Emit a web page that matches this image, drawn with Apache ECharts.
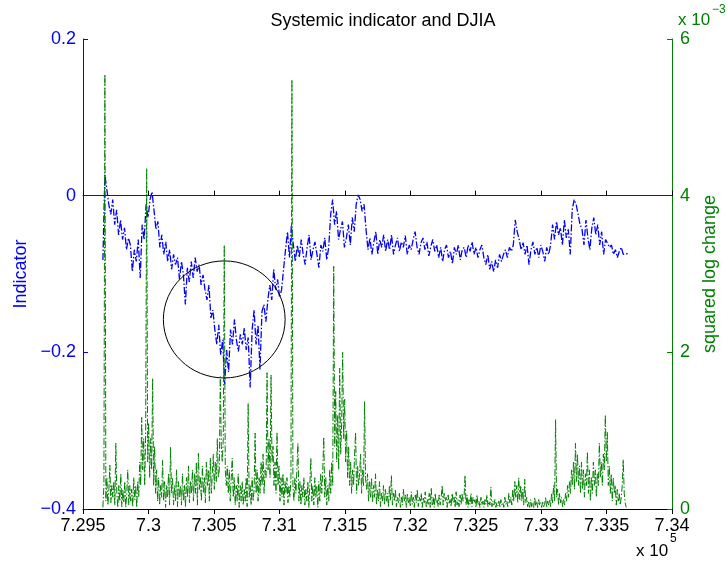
<!DOCTYPE html>
<html>
<head>
<meta charset="utf-8">
<script src="https://cdn.jsdelivr.net/npm/echarts@6/dist/echarts.min.js"></script>
<style>
html, body { margin: 0; padding: 0; background: #fff; }
#chart { width: 727px; height: 567px; }
</style>
</head>
<body>
<div id="chart"></div>
<script>
// sample grids: MATLAB datenum of first sample and spacing in days
const startDay = 729652;
const indicatorStep = 15;
const changeStep = 7.6;

// systemic indicator (left axis)
const indicator = [
    -0.082, 0.027, 0.008, -0.011,
    -0.024, -0.005, -0.037, -0.018, -0.050, -0.031, -0.056, -0.041, -0.069, -0.054,
    -0.063, -0.097, -0.069, -0.084, -0.056, -0.105,
    -0.037, -0.056, -0.011, -0.028, -0.005, 0.005, -0.018,
    -0.043, -0.033, -0.066, -0.050, -0.075, -0.059, -0.084, -0.069, -0.094, -0.075,
    -0.088, -0.079, -0.107, -0.084, -0.101, -0.139, -0.092, -0.110, -0.084, -0.105, -0.079, -0.097, -0.088, -0.114, -0.101,
    -0.120, -0.133, -0.114, -0.156, -0.146, -0.171, -0.190, -0.165, -0.203,
    -0.184, -0.241, -0.197, -0.225,
    -0.171, -0.190, -0.158, -0.184, -0.199, -0.177, -0.190, -0.169, -0.197, -0.181, -0.245,
    -0.171, -0.146, -0.190, -0.165, -0.222, -0.148, -0.139, -0.161, -0.133,
    -0.114, -0.133, -0.094, -0.120, -0.107, -0.130, -0.120,
    -0.094, -0.069, -0.046, -0.079, -0.037, -0.063, -0.084,
    -0.063, -0.079, -0.056, -0.075, -0.088, -0.066, -0.050, -0.082, -0.069, -0.059, -0.075, -0.092, -0.063, -0.071, -0.054, -0.082, -0.066,
    -0.024, -0.005, -0.037, -0.020, -0.056,
    -0.043, -0.033, -0.066, -0.054, -0.037, -0.063, -0.028, -0.046,
    -0.011, 0.001, -0.005, -0.020, -0.011,
    -0.043, -0.069, -0.054, -0.075, -0.059, -0.046, -0.075, -0.056, -0.066, -0.050, -0.071,
    -0.056, -0.069, -0.050, -0.075, -0.063, -0.054, -0.071, -0.059, -0.066, -0.051, -0.075, -0.063,
    -0.069, -0.056, -0.046, -0.066, -0.075, -0.060, -0.054, -0.069, -0.059, -0.077, -0.065, -0.056,
    -0.071, -0.063, -0.079, -0.066, -0.084, -0.069, -0.063, -0.079, -0.071, -0.087, -0.066, -0.075, -0.063, -0.082, -0.069, -0.066, -0.079,
    -0.063, -0.071, -0.059, -0.075, -0.066, -0.079, -0.069, -0.063,
    -0.079, -0.088, -0.075, -0.094, -0.084, -0.097, -0.082, -0.092, -0.075, -0.084,
    -0.075, -0.069, -0.079, -0.066, -0.071, -0.063,
    -0.031, -0.046, -0.056,
    -0.069, -0.060, -0.075, -0.063, -0.088, -0.069, -0.059, -0.075, -0.066, -0.079, -0.063, -0.071, -0.084, -0.066, -0.075, -0.063,
    -0.037, -0.056, -0.033, -0.050, -0.041, -0.063, -0.031, -0.054, -0.043, -0.075,
    -0.018, -0.005, -0.011, -0.024, -0.037,
    -0.043, -0.063, -0.031, -0.054, -0.069, -0.041,
    -0.028, -0.050, -0.037, -0.063, -0.046, -0.075, -0.056, -0.054, -0.066,
    -0.063, -0.075, -0.069, -0.079, -0.071, -0.066, -0.075, -0.077, -0.074, -0.075
];

// squared log change of DJIA, in units of 1e-3 (right axis)
const sqLogChange = [
    0.02, 0.3, 5.55, 0.1, 0.4, 0.05, 0.25, 0.56, 0.08, 0.3,
    0.15, 0.35, 0.05, 0.84, 0.2, 0.02, 0.3, 0.1, 0.45, 0.03,
    0.25, 0.08, 0.35, 0.02, 0.2, 0.5, 0.05, 0.3, 0.1, 0.25,
    0.03, 0.4, 0.12, 0.3, 0.02, 0.35, 0.15, 0.6, 0.3, 1.17,
    0.5, 0.9, 0.3, 1.0, 4.35, 0.6, 1.1, 0.4, 0.9, 0.5,
    1.67, 0.3, 0.8, 0.2, 0.5, 0.1, 0.4, 0.05, 0.3, 0.15,
    0.62, 0.1, 0.35, 0.02, 0.3, 0.15, 0.45, 0.05, 0.79, 0.2,
    0.4, 0.05, 0.3, 0.1, 0.5, 0.03, 0.35, 0.15, 0.3, 0.05,
    0.45, 0.1, 0.3, 0.02, 0.4, 0.15, 0.55, 0.08, 0.35, 0.2,
    0.5, 0.1, 0.45, 0.2, 0.6, 0.05, 0.71, 0.25, 0.4, 0.1,
    0.55, 0.2, 0.4, 0.08, 0.6, 0.3, 0.5, 0.1, 0.65, 0.2,
    0.45, 0.7, 0.25, 0.6, 0.35, 0.9, 0.4, 0.5, 1.69, 0.8,
    0.6, 0.9, 3.37, 0.5, 0.3, 0.55, 0.2, 0.5, 0.1, 0.4,
    0.65, 0.15, 0.4, 0.05, 0.3, 0.1, 0.45, 0.02, 0.3, 0.1,
    0.35, 0.05, 0.25, 0.1, 0.4, 0.03, 1.35, 0.15, 0.3, 0.05,
    0.4, 0.1, 0.25, 0.97, 0.2, 0.5, 0.1, 0.4, 0.2, 0.6,
    0.3, 0.7, 0.2, 0.5, 0.4, 1.74, 0.5, 0.9, 0.4, 1.71,
    0.6, 0.8, 0.3, 0.6, 0.2, 0.98, 0.3, 0.55, 0.1, 0.4,
    0.15, 0.45, 0.05, 0.35, 0.2, 0.4, 0.08, 0.3, 0.15, 0.4,
    5.48, 0.3, 0.1, 0.4, 0.2, 0.5, 0.84, 0.1, 0.35, 0.05,
    0.3, 0.15, 0.4, 0.05, 0.25, 0.1, 0.35, 0.02, 0.3, 0.65,
    0.1, 0.3, 0.05, 0.4, 0.15, 0.3, 0.02, 0.35, 0.1, 0.45,
    0.2, 0.5, 0.92, 0.15, 0.4, 0.05, 0.3, 0.1, 0.5, 0.2,
    0.6, 0.3, 3.1, 0.8, 1.5, 0.6, 1.2, 0.5, 1.8, 0.7,
    1.1, 2.0, 0.9, 1.4, 0.6, 1.0, 0.4, 0.8, 0.3, 0.6,
    0.2, 0.5, 0.3, 0.7, 0.98, 0.2, 0.55, 0.3, 0.45, 0.7,
    0.2, 0.5, 0.3, 1.37, 0.4, 0.25, 0.45, 0.1, 0.35, 0.15,
    0.4, 0.08, 0.3, 0.15, 0.45, 0.05, 0.25, 0.1, 0.35, 0.03,
    0.2, 0.1, 0.3, 0.05, 0.25, 0.1, 0.2, 0.02, 0.3, 0.1,
    0.43, 0.05, 0.2, 0.1, 0.25, 0.03, 0.15, 0.08, 0.2, 0.02,
    0.15, 0.05, 0.25, 0.1, 0.18, 0.02, 0.2, 0.08, 0.15, 0.03,
    0.22, 0.06, 0.15, 0.02, 0.18, 0.08, 0.25, 0.03, 0.15, 0.1,
    0.2, 0.02, 0.15, 0.08, 0.22, 0.03, 0.12, 0.06, 0.2, 0.02,
    0.27, 0.05, 0.15, 0.02, 0.2, 0.08, 0.12, 0.03, 0.18, 0.05,
    0.15, 0.3, 0.05, 0.2, 0.1, 0.15, 0.02, 0.18, 0.06, 0.12,
    0.03, 0.2, 0.08, 0.15, 0.02, 0.22, 0.05, 0.12, 0.03, 0.18,
    0.06, 0.2, 0.1, 0.15, 0.43, 0.05, 0.18, 0.02, 0.12, 0.06,
    0.2, 0.03, 0.15, 0.08, 0.12, 0.02, 0.18, 0.05, 0.1, 0.02,
    0.15, 0.05, 0.1, 0.02, 0.12, 0.06, 0.18, 0.03, 0.1, 0.05,
    0.28, 0.03, 0.1, 0.05, 0.12, 0.02, 0.08, 0.04, 0.1, 0.02,
    0.12, 0.05, 0.08, 0.02, 0.15, 0.06, 0.1, 0.03, 0.2, 0.08,
    0.15, 0.05, 0.25, 0.1, 0.35, 0.15, 0.3, 0.08, 0.4, 0.12,
    0.3, 0.1, 0.25, 0.05, 0.38, 0.08, 0.15, 0.03, 0.1, 0.02,
    0.12, 0.03, 0.08, 0.02, 0.15, 0.04, 0.1, 0.02, 0.12, 0.05,
    0.08, 0.02, 0.1, 0.03, 0.06, 0.15, 0.02, 0.1, 0.05, 0.12,
    0.03, 0.2, 0.08, 0.3, 0.1, 1.14, 0.15, 0.25, 0.05, 0.2,
    0.08, 0.15, 0.03, 0.12, 0.05, 0.2, 0.1, 0.3, 0.15, 0.35,
    0.2, 0.5, 0.3, 0.6, 0.25, 0.84, 0.35, 0.7, 0.3, 0.55,
    0.2, 0.6, 0.25, 0.5, 0.15, 0.45, 0.3, 0.73, 0.2, 0.5,
    0.1, 0.4, 0.2, 0.6, 0.3, 0.5, 0.15, 0.45, 0.3, 0.84,
    0.4, 0.6, 0.3, 0.7, 0.5, 1.2, 0.6, 0.98, 0.3, 0.55,
    0.2, 0.45, 0.1, 0.4, 0.2, 0.3, 0.05, 0.25, 0.1, 0.2,
    0.05, 0.15, 0.3, 0.63, 0.2, 0.08, 0.02
];

// annotation ellipse: centre date, centre value, half width (days), half height
const circleMark = [730579, -0.158, 465, 0.0747];

const indicatorDates = indicator.map((_, i) => startDay + i * indicatorStep);
const changeDates = sqLogChange.map((_, i) => startDay + i * changeStep);

const BLUE = '#0000ff';
const GREEN = '#008000';
const FONT = 'Liberation Sans, Arial, sans-serif';
const dashDot = [7, 2, 1.5, 2];

const chart = echarts.init(document.getElementById('chart'), null, { renderer: 'canvas' });

const option = {
    animation: false,
    backgroundColor: '#fff',
    textStyle: { fontFamily: FONT },
    title: {
        text: 'Systemic indicator and DJIA',
        left: 378,
        textAlign: 'center',
        top: 7,
        textStyle: { fontSize: 18, fontWeight: 'normal', color: '#000', fontFamily: FONT }
    },
    grid: { left: 83, right: 54, top: 39, bottom: 58 },
    xAxis: [{
        type: 'value',
        min: 729500,
        max: 734000,
        interval: 500,
        position: 'bottom',
        axisLine: { lineStyle: { color: '#000', width: 1 } },
        axisTick: { inside: true, length: 5, lineStyle: { color: '#000' } },
        axisLabel: {
            color: '#000', fontSize: 18, margin: 8, fontFamily: FONT,
            formatter: v => String(+(v / 1e5).toFixed(3))
        },
        splitLine: { show: false }
    }, {
        type: 'value',
        min: 729500,
        max: 734000,
        interval: 500,
        position: 'top',
        axisLine: { lineStyle: { color: '#000', width: 1 } },
        axisTick: { inside: true, length: 5, lineStyle: { color: '#000' } },
        axisLabel: { show: false },
        splitLine: { show: false }
    }],
    yAxis: [{
        type: 'value',
        min: -0.4,
        max: 0.2,
        interval: 0.2,
        position: 'left',
        name: 'Indicator',
        nameLocation: 'middle',
        nameRotate: 90,
        nameGap: 36,
        nameTextStyle: { color: BLUE, fontSize: 18, fontFamily: FONT },
        axisLine: { show: true, lineStyle: { color: BLUE, width: 1 } },
        axisTick: { show: true, inside: true, length: 5, lineStyle: { color: BLUE } },
        axisLabel: {
            color: BLUE, fontSize: 18, margin: 7, fontFamily: FONT,
            formatter: v => String(+v.toFixed(2)).replace('-', '\u2212')
        },
        splitLine: { show: false }
    }, {
        type: 'value',
        min: 0,
        max: 6,
        interval: 2,
        position: 'right',
        name: 'squared log change',
        nameLocation: 'middle',
        nameRotate: 90,
        nameGap: 26,
        nameTextStyle: { color: GREEN, fontSize: 18, fontFamily: FONT },
        axisLine: { show: true, lineStyle: { color: GREEN, width: 1 } },
        axisTick: { show: true, inside: true, length: 5, lineStyle: { color: GREEN } },
        axisLabel: { color: GREEN, fontSize: 18, margin: 8, fontFamily: FONT },
        splitLine: { show: false }
    }],
    graphic: [
        { type: 'text', left: 678, top: 12, style: { text: 'x 10', fontSize: 17, fill: GREEN, fontFamily: FONT } },
        { type: 'text', left: 712, top: 4, style: { text: '\u22123', fontSize: 12, fill: GREEN, fontFamily: FONT } },
        { type: 'text', left: 636, top: 543, style: { text: 'x 10', fontSize: 17, fill: '#000', fontFamily: FONT } },
        { type: 'text', left: 670, top: 533, style: { text: '5', fontSize: 12, fill: '#000', fontFamily: FONT } }
    ],
    series: [{
        name: 'Indicator',
        type: 'line',
        xAxisIndex: 0,
        yAxisIndex: 0,
        data: indicatorDates.map((d, i) => [d, indicator[i]]),
        showSymbol: false,
        silent: true,
        lineStyle: { color: BLUE, width: 1.3, type: dashDot },
        markLine: {
            silent: true,
            symbol: 'none',
            label: { show: false },
            lineStyle: { color: '#222', width: 1, type: 'solid' },
            data: [{ yAxis: 0 }]
        },
        z: 2
    }, {
        name: 'circle',
        type: 'custom',
        xAxisIndex: 0,
        yAxisIndex: 0,
        data: [circleMark],
        silent: true,
        renderItem: (params, api) => {
            const c = api.coord([api.value(0), api.value(1)]);
            const s = api.size([api.value(2), api.value(3)]);
            return {
                type: 'ellipse',
                shape: { cx: c[0], cy: c[1], rx: s[0], ry: s[1] },
                style: { fill: 'none', stroke: '#000', lineWidth: 1 }
            };
        },
        z: 3
    }, {
        name: 'squared log change',
        type: 'line',
        xAxisIndex: 0,
        yAxisIndex: 1,
        data: changeDates.map((d, i) => [d, sqLogChange[i]]),
        showSymbol: false,
        silent: true,
        lineStyle: { color: GREEN, width: 1, type: dashDot },
        z: 4
    }]
};

chart.setOption(option);
</script>
</body>
</html>
